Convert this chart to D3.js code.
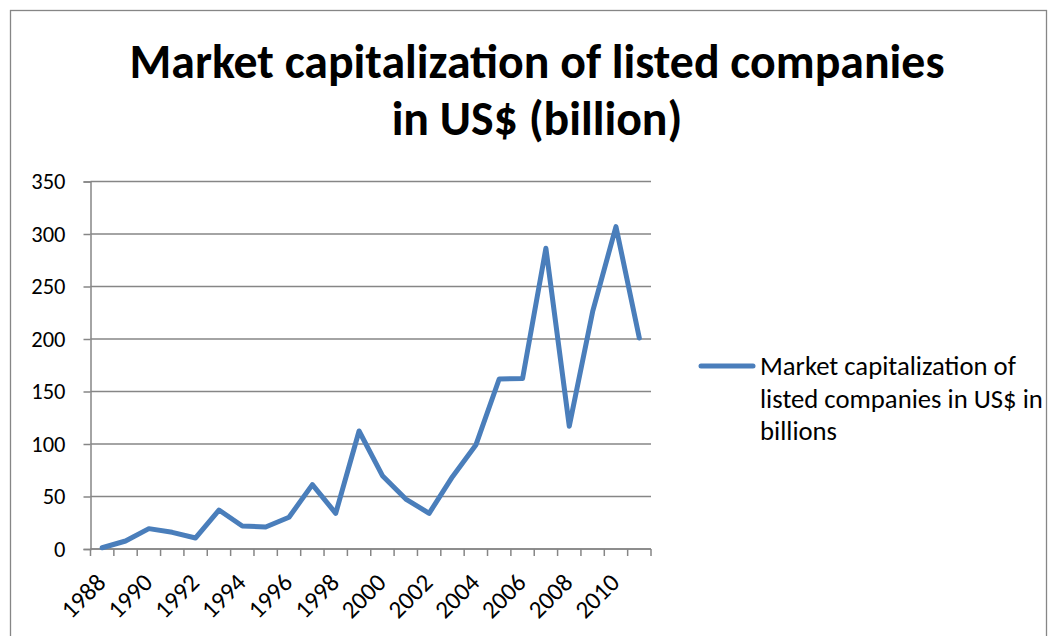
<!DOCTYPE html>
<html><head><meta charset="utf-8">
<script src="https://cdn.jsdelivr.net/npm/d3@7"></script>
<style>body{margin:0;background:#fff}svg{display:block}</style>
</head><body>
<svg id="c" width="1052" height="636"></svg>
<script>
const years = [1988,1989,1990,1991,1992,1993,1994,1995,1996,1997,1998,1999,2000,2001,2002,2003,2004,2005,2006,2007,2008,2009,2010,2011];
const values = [1.2,7.6,19.4,15.9,10.5,37.1,21.9,21,30.2,61.3,34,112.4,69.8,47.6,34,68.9,99,161.9,162.3,286.4,117,226,307,201];
const yTicks = [0,50,100,150,200,250,300,350];
const xLabels = [1988,1990,1992,1994,1996,1998,2000,2002,2004,2006,2008,2010];
const seriesName = ["Market capitalization of","listed companies in US$ in","billions"];
const titleLines = ["Market capitalization of listed companies","in US$ (billion)"];

const FONT = "Carlito, Calibri, Lato, 'Open Sans', sans-serif";
const svg = d3.select("#c");
const grid = "#868686";
const blue = "#4A7EBB";

// chart border
svg.append("rect").attr("x",10.5).attr("y",10.5).attr("width",1036).attr("height",640)
  .attr("fill","none").attr("stroke",grid).attr("stroke-width",1.3);

const L=90.5, R=651, T=181.5, B=549;
const x = d3.scaleBand().domain(years).range([L,R]);
const y = d3.scaleLinear().domain([0,350]).range([B,T]);

// gridlines
svg.append("g").selectAll("line").data(yTicks).join("line")
  .attr("x1",L).attr("x2",R).attr("y1",d=>y(d)).attr("y2",d=>y(d))
  .attr("stroke",grid).attr("stroke-width",1.5);

// y axis
const ya = svg.append("g").attr("transform",`translate(${L},0)`)
  .call(d3.axisLeft(y).tickValues(yTicks).tickSize(7).tickPadding(18));
ya.select(".domain").attr("stroke",grid).attr("stroke-width",1.5);
ya.selectAll(".tick line").attr("stroke",grid).attr("stroke-width",1.5);
ya.selectAll("text").attr("font-family",FONT).attr("font-size",22.5).attr("fill","#000");

// x axis: ticks between categories
const xa = svg.append("g");
xa.append("line").attr("x1",L).attr("x2",R).attr("y1",B).attr("y2",B).attr("stroke",grid).attr("stroke-width",1.5);
const bounds = years.map(d=>x(d)).concat([R]);
xa.selectAll("line.t").data(bounds).join("line").attr("class","t")
  .attr("x1",d=>d).attr("x2",d=>d).attr("y1",B).attr("y2",B+7)
  .attr("stroke",grid).attr("stroke-width",1.5);
xa.selectAll("text").data(xLabels).join("text")
  .attr("transform",d=>`translate(${x(d)+x.bandwidth()/2+5},${B+35}) rotate(-45)`)
  .attr("text-anchor","end")
  .attr("font-family",FONT).attr("font-size",25).attr("fill","#000")
  .text(d=>d);

// line
const line = d3.line().x((d,i)=>x(years[i])+x.bandwidth()/2).y(d=>y(d));
svg.append("path").datum(values).attr("d",line).attr("fill","none")
  .attr("stroke",blue).attr("stroke-width",5).attr("stroke-linejoin","round").attr("stroke-linecap","round");

// title
const tt = svg.append("text").attr("text-anchor","middle").attr("font-family",FONT)
  .attr("font-weight","bold").attr("font-size",40).attr("fill","#000");
tt.selectAll("tspan").data(titleLines).join("tspan").attr("x",537)
  .attr("y",(d,i)=>78+i*57).text(d=>d);
const w0 = tt.select("tspan").node().getComputedTextLength();
tt.attr("font-size",40*815/w0);

// legend
svg.append("line").attr("x1",701).attr("x2",753).attr("y1",366).attr("y2",366)
  .attr("stroke",blue).attr("stroke-width",5).attr("stroke-linecap","round");
const lt = svg.append("text").attr("font-family",FONT).attr("font-size",22).attr("fill","#000");
lt.selectAll("tspan").data(seriesName).join("tspan").attr("x",760)
  .attr("y",(d,i)=>375+i*32.5).text(d=>d);
const lw = lt.selectAll("tspan").nodes()[1].getComputedTextLength();
lt.attr("font-size",22*283/lw);
</script>
</body></html>
